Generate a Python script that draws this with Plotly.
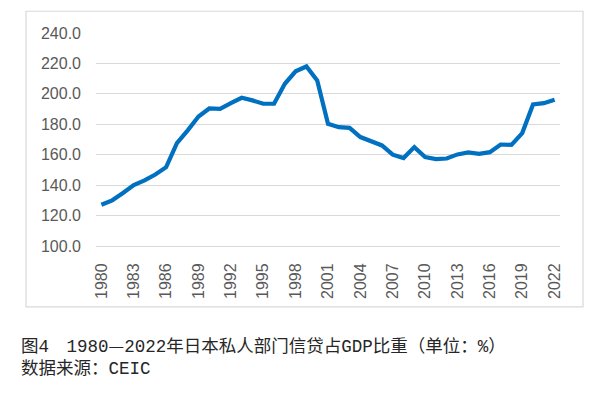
import plotly.graph_objects as go

years = list(range(1980, 2023))
credit_gdp = [127.1, 130.0, 134.8, 140.0, 143.1, 147.0, 151.8, 167.6, 176.0, 185.1,
              190.4, 190.2, 193.9, 197.4, 195.7, 193.5, 193.5, 206.6, 214.8, 218.0,
              208.8, 180.3, 178.1, 177.7, 171.6, 168.7, 166.1, 160.0, 157.8, 165.0,
              158.4, 157.1, 157.5, 160.2, 161.5, 160.6, 161.7, 166.7, 166.5, 174.2,
              193.0, 193.9, 196.1]
tick_years = list(range(1980, 2023, 3))
tick_labels = [str(y) for y in tick_years]
y_ticks = [100, 120, 140, 160, 180, 200, 220, 240]
caption1 = "图4\u30001980<span style=\"font-family:'Noto Sans CJK SC'\">—</span>2022年日本私人部门信贷占GDP比重（单位：%）"
caption2 = "数据来源：CEIC"

GRID = "#d9d9d9"
TXT = "#595959"
x_range = [years[0] - 0.5, years[-1] + 0.5]
boundaries = [y - 0.5 for y in tick_years]

# page has an 8px body margin; figure coordinates = page coordinates - 8
OFF = 8
W, H = 604 - OFF, 398 - OFF
PL, PR, PT, PB = 96 - OFF, 560 - OFF, 32.5 - OFF, 246 - OFF
PW, PH = PR - PL, PB - PT


def px(xp):
    return (xp - OFF - PL) / PW


def py(yp):
    return (PB - (yp - OFF)) / PH


fig = go.Figure()
fig.add_trace(go.Scatter(
    x=years, y=credit_gdp, mode="lines",
    line=dict(color="#0070C0", width=4.2),
    hoverinfo="skip", showlegend=False,
))

cap_font = dict(family="Liberation Mono, 'Noto Sans CJK SC', monospace", size=17.5, color="#262626")

fig.update_layout(
    width=W, height=H,
    margin=dict(l=PL, r=W - PR, t=PT, b=H - PB, pad=0),
    paper_bgcolor="white", plot_bgcolor="white",
    font=dict(family="Liberation Sans, Arial, sans-serif", size=16, color=TXT),
    xaxis=dict(
        range=x_range, tickmode="array", tickvals=tick_years, ticktext=tick_labels,
        tickangle=-90, ticks="", showgrid=False, zeroline=False,
        showline=True, linecolor=GRID, linewidth=1,
        ticklabelstandoff=10,
        tickfont=dict(size=16, color=TXT),
    ),
    xaxis2=dict(
        overlaying="x", anchor="y", side="bottom", range=x_range,
        tickmode="array", tickvals=boundaries, ticks="outside", ticklen=4,
        tickcolor=GRID, tickwidth=1, showticklabels=False, showgrid=False,
        zeroline=False, showline=False,
    ),
    yaxis=dict(
        range=[100, 240], tickmode="array", tickvals=y_ticks,
        tickformat=".1f", showgrid=True, gridcolor=GRID, gridwidth=1,
        zeroline=False, showline=False, ticks="",
        ticklabelstandoff=14,
        tickfont=dict(size=16, color=TXT),
    ),
    shapes=[dict(
        type="rect", xref="paper", yref="paper",
        x0=px(26), x1=px(583), y0=py(307), y1=py(10.7),
        line=dict(color=GRID, width=1.2), fillcolor="rgba(0,0,0,0)", layer="below",
    )],
    annotations=[
        dict(text=caption1, xref="paper", yref="paper",
             x=px(19), y=py(345), xanchor="left", yanchor="middle",
             showarrow=False, font=cap_font),
        dict(text=caption2, xref="paper", yref="paper",
             x=px(19), y=py(369.5), xanchor="left", yanchor="middle",
             showarrow=False, font=cap_font),
    ],
)

fig.write_html("out.html")
